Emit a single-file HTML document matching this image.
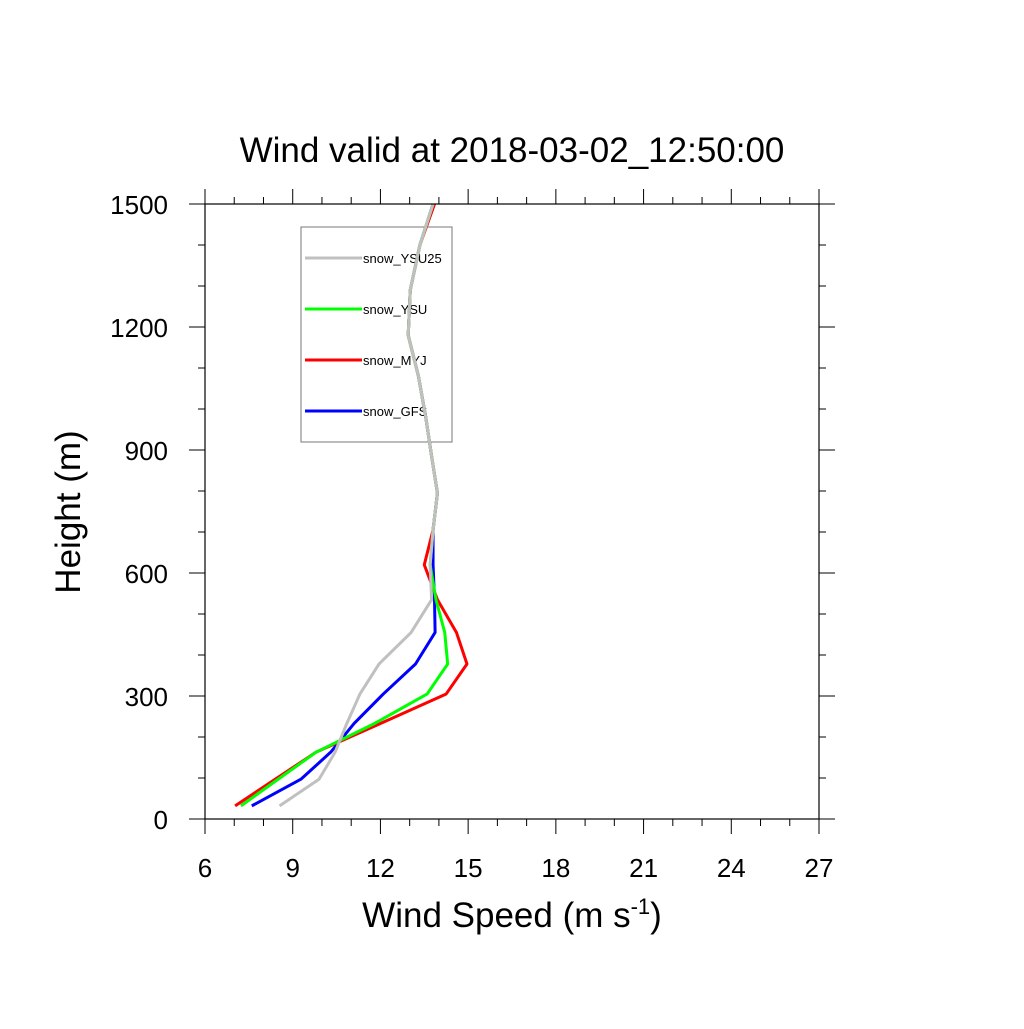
<!DOCTYPE html>
<html><head><meta charset="utf-8"><style>
body{margin:0;background:#fff;font-family:"Liberation Sans",sans-serif;}
</style></head><body>
<svg id="chart" width="1024" height="1024" xmlns="http://www.w3.org/2000/svg" font-family="Liberation Sans, sans-serif">
<text x="512" y="162" text-anchor="middle" font-size="35">Wind valid at 2018-03-02_12:50:00</text>
<g>
<rect x="301" y="227" width="151" height="215" fill="#fff" stroke="#777" stroke-width="1"/>
<g id="legend-items"></g>
</g>
<g id="axes"></g>
<g id="series"></g>
<rect x="205" y="204" width="614" height="615" fill="none" stroke="#000" stroke-width="1.2"/>
<text transform="translate(80,512) rotate(-90)" text-anchor="middle" font-size="35">Height (m)</text>
<text x="512" y="927" text-anchor="middle" font-size="35">Wind Speed (m s<tspan dy="-13" font-size="22">-1</tspan><tspan dy="13">)</tspan></text>
</svg>
<script>
const heights=[32,97,163,233,305,378,455,535,620,705,795,885,980,1080,1180,1290,1400,1500];
const ysu25=[8.55,9.9,10.45,10.85,11.3,11.95,13.05,13.75,13.7,13.8,13.95,13.75,13.55,13.3,12.95,13.02,13.35,13.8];
const ysu=[7.23,8.5,9.8,11.8,13.6,14.3,14.2,13.9,13.7,13.8,13.95,13.75,13.55,13.3,12.95,13.02,13.35,13.8];
const myj=[7.03,8.4,9.8,12.0,14.25,14.96,14.6,13.95,13.5,13.8,13.95,13.75,13.55,13.3,12.95,13.02,13.35,13.85];
const gfs=[7.6,9.28,10.3,11.1,12.1,13.2,13.87,13.85,13.8,13.8,13.95,13.75,13.55,13.3,12.95,13.02,13.35,13.8];
const seriesNames=["snow_YSU25","snow_YSU","snow_MYJ","snow_GFS"];
const seriesColors=["#c0c0c0","#00ff00","#ff0000","#0000ff"];
const xTicks=[6,9,12,15,18,21,24,27];
const yTicks=[0,300,600,900,1200,1500];
const NS="http://www.w3.org/2000/svg";
const X=v=>205+(v-6)/21*614;
const Y=v=>819-v/1500*615;
function mk(t,a,p){const e=document.createElementNS(NS,t);for(const k in a)e.setAttribute(k,a[k]);p.appendChild(e);return e;}
const ax=document.getElementById('axes');
for(let v=6;v<=27;v++){const maj=(v-6)%3===0,L=maj?15:7;
 let t=mk('line',{x1:X(v),x2:X(v),y1:819,y2:819+L,stroke:'#000','stroke-width':1},ax);
 
 
 t=mk('line',{x1:X(v),x2:X(v),y1:204,y2:204-L,stroke:'#000','stroke-width':1},ax);
 
 }
for(let v=0;v<=1500;v+=100){const maj=v%300===0,L=maj?16:7;
 let t=mk('line',{x1:205,x2:205-L,y1:Y(v),y2:Y(v),stroke:'#000','stroke-width':1},ax);
 
 
 t=mk('line',{x1:819,x2:819+L,y1:Y(v),y2:Y(v),stroke:'#000','stroke-width':1},ax);
 
 }
xTicks.forEach(v=>{const t=mk('text',{x:X(v),y:877,'text-anchor':'middle','font-size':26},ax);t.textContent=v;
 
 });
yTicks.forEach(v=>{const t=mk('text',{x:168,y:Y(v)+10,'text-anchor':'end','font-size':26},ax);t.textContent=v;
 
 });
const sg=document.getElementById('series');
const data=[ysu25,ysu,myj,gfs];
[3,2,1,0].forEach(i=>{const d=data[i];
 const pts=d.map((v,j)=>X(v)+','+Y(heights[j])).join(' ');
 const p=mk('polyline',{points:pts,fill:'none',stroke:seriesColors[i],'stroke-width':3,'stroke-linejoin':'round'},sg);
 
 });
const lg=document.getElementById('legend-items');
seriesNames.forEach((n,i)=>{const y=258+i*51;
 const l=mk('line',{x1:305,x2:362,y1:y,y2:y,stroke:seriesColors[i],'stroke-width':3},lg);
 
 
 const t=mk('text',{x:363,y:y+5,'font-size':13},lg);t.textContent=n;
 
 });
</script>
</body></html>
